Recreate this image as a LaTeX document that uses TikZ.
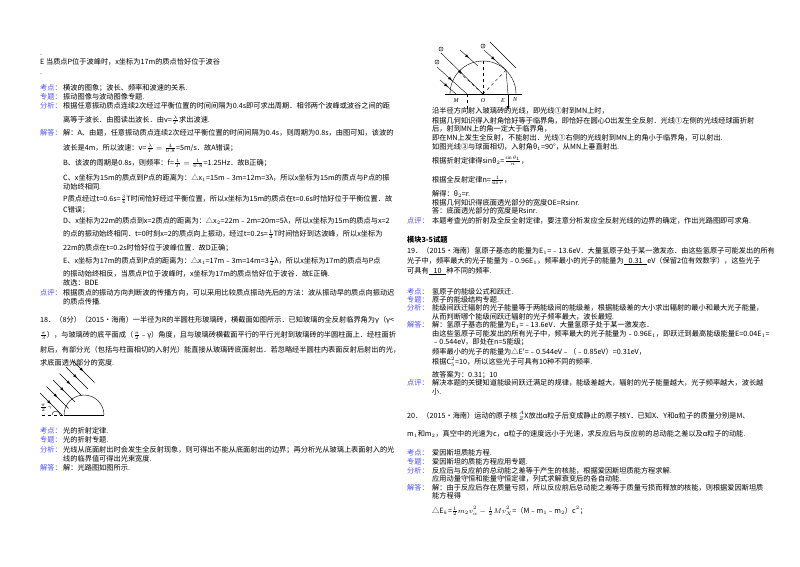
\documentclass[tikz,border=0pt]{standalone}
\usepackage{fontspec}
\setmainfont{Liberation Serif}
\newfontfamily\cjk{Noto Sans CJK SC}
\usetikzlibrary{decorations.markings}
\begin{document}
\begin{tikzpicture}[x=1pt,y=-1pt,
 t/.style={anchor=base west,inner sep=0,font=\cjk\fontsize{7.2}{8}\selectfont},
 lb/.style={t,text=blue!70!white},
 ray/.style={thin,postaction={decorate},decoration={markings,mark=at position 0.5 with {\arrow{latex}}}}]
\useasboundingbox (0,0) rectangle (800,566);
\fill[white] (0,0) rectangle (800,566);
% ---------- left column
\node[t] (l0) at (40,55) {.};
\node[t] (l1) at (40,64) {E 当质点P位于波峰时，x坐标为17m的质点恰好位于波谷};
\node[t] (l2) at (40,74) {.};
\node[lb] (k1) at (40,90) {考点：};
\node[t] (k1t) at (63,90) {横波的图象；波长、频率和波速的关系.};
\node[lb] (z1) at (40,99) {专题：};
\node[t] (z1t) at (63,99) {振动图像与波动图像专题.};
\node[lb] (f1) at (40,108) {分析：};
\node[t] (f1t) at (63,108) {根据任意振动质点连续2次经过平衡位置的时间间隔为0.4s即可求出周期．相邻两个波峰或波谷之间的距};
\node[t] (f1u) at (63,122) {离等于波长．由图读出波长．由v=$\frac{\lambda}{T}$求出波速.};
\node[lb] (j1) at (40,135) {解答：};
\node[t] (j1a) at (63,135) {解：A、由题，任意振动质点连续2次经过平衡位置的时间间隔为0.4s，则周期为0.8s，由图可知，该波的};
\node[t] (j1b) at (63,150) {波长是4m，所以波速：v=$\frac{\lambda}{T}=\frac{4}{0.8}$=5m/s．故A错误；};
\node[t] (j1c) at (63,165) {B、该波的周期是0.8s，则频率：f=$\frac{1}{T}=\frac{1}{0.8}$=1.25Hz．故B正确；};
\node[t] (j1d) at (63,180) {C、x坐标为15m的质点到P点的距离为：△x$_1$=15m﹣3m=12m=3λ，所以x坐标为15m的质点与P点的振};
\node[t] (j1e) at (63,189) {动始终相同.};
\node[t] (j1f) at (63,201) {P质点经过t=0.6s=$\frac{3}{4}$T时间恰好经过平衡位置，所以x坐标为15m的质点在t=0.6s时恰好位于平衡位置．故};
\node[t] (j1g) at (63,212) {C错误；};
\node[t] (j1h) at (63,223) {D、x坐标为22m的质点到x=2质点的距离为：△x$_2$=22m﹣2m=20m=5λ，所以x坐标为15m的质点与x=2};
\node[t] (j1i) at (63,236) {的点的振动始终相同．t=0时刻x=2的质点向上振动，经过t=0.2s=$\frac{1}{4}$T时间恰好到达波峰，所以x坐标为};
\node[t] (j1j) at (63,250) {22m的质点在t=0.2s时恰好位于波峰位置．故D正确；};
\node[t] (j1k) at (63,263) {E、x坐标为17m的质点到P点的距离为：△x$_1$=17m﹣3m=14m=3$\frac{1}{2}$λ，所以x坐标为17m的质点与P点};
\node[t] (j1l) at (63,276) {的振动始终相反，当质点P位于波峰时，x坐标为17m的质点恰好位于波谷．故E正确.};
\node[t] (j1m) at (63,285) {故选：BDE};
\node[lb] (p1) at (40,295) {点评：};
\node[t] (p1t) at (63,295) {根据质点的振动方向判断波的传播方向，可以采用比较质点振动先后的方法：波从振动早的质点向振动迟};
\node[t] (p1u) at (63,304) {的质点传播.};
\node[t] (q18) at (40,322) {18．（8分）（2015•海南）一半径为R的半圆柱形玻璃砖，横截面如图所示．已知玻璃的全反射临界角为γ（γ<};
\node[t] (q18b) at (40,337) {$\frac{\pi}{3}$），与玻璃砖的底平面成（$\frac{\pi}{2}$﹣γ）角度，且与玻璃砖横截面平行的平行光射到玻璃砖的半圆柱面上．经柱面折};
\node[t] (q18c) at (40,352) {射后，有部分光（包括与柱面相切的入射光）能直接从玻璃砖底面射出．若忽略经半圆柱内表面反射后射出的光，};
\node[t] (q18d) at (40,365) {求底面透光部分的宽度.};
% left figure
\draw[thin] (64,415) arc (180:360:20);
\draw[thin] (64,415) -- (104,415);
\draw[thin,dashed] (42,415) -- (64,415);
\draw[thin] (52,415) arc (180:360:4);
\foreach \i in {0,1,2,3,4,5} {\draw[ray] ({40+\i*6.5},{393-\i*6.5}) -- ({62+\i*6.5},{415-\i*6.5});}
\node[font=\fontsize{4.5}{5}\selectfont,inner sep=0] (gm) at (46,408) {$\frac{\pi}{2}$ $\gamma$};
\node[lb] (k2) at (40,433) {考点：};
\node[t] (k2t) at (63,433) {光的折射定律.};
\node[lb] (z2) at (40,442) {专题：};
\node[t] (z2t) at (63,442) {光的折射专题.};
\node[lb] (f2) at (40,452) {分析：};
\node[t] (f2t) at (63,452) {光线从底面射出时会发生全反射现象，则可得出不能从底面射出的边界；再分析光从玻璃上表面射入的光};
\node[t] (f2u) at (63,461) {线的临界值可得出光束宽度.};
\node[lb] (j2) at (40,470) {解答：};
\node[t] (j2t) at (63,470) {解：光路图如图所示.};
% ---------- right figure
\coordinate (O) at (483,94);
\draw[thin] (445,94) -- (522,94);
\draw[thin] (450,94) arc (180:360:33);
\draw[thin,dashed] (483,94) -- (483,61);
\draw[thin,dashed] (483,94) -- (506,70);
\draw[thin,dashed] (483,94) -- (459,72);
\draw[thin,dashed] (467,94) -- (467,112);
\draw[thin] (506,70) -- (508,94);
\draw[-latex,thin] (508,94) -- (508,110);
\draw[ray] (441,53) -- (483,94);
\draw[ray] (437,67) -- (467,94);
\draw[ray] (440,80) -- (456,94);
\draw[ray] (460,50) -- (478,66);
\draw[ray] (484,50) -- (506,70);
\draw[thin] (490,42) -- (516,68);
\node[inner sep=0.3pt,draw,circle,font=\fontsize{4}{4}\selectfont] (c1) at (441,49) {1};
\node[inner sep=0.3pt,draw,circle,font=\fontsize{4}{4}\selectfont] (c2) at (437,62) {2};
\node[inner sep=0.3pt,draw,circle,font=\fontsize{4}{4}\selectfont] (c3) at (483,46) {3};
\node[inner sep=0,font=\itshape\fontsize{6}{6}\selectfont] (M) at (456,101) {M};
\node[inner sep=0,font=\itshape\fontsize{6}{6}\selectfont] (Ol) at (483,101) {O};
\node[inner sep=0,font=\itshape\fontsize{6}{6}\selectfont] (E) at (503,101) {E};
\node[inner sep=0,font=\itshape\fontsize{6}{6}\selectfont] (N) at (515,100) {N};
% right text
\node[t] (r1) at (432,113) {沿半径方向射入玻璃砖的光线，即光线①射到MN上时，};
\node[t] (r2) at (432,123) {根据几何知识得入射角恰好等于临界角，即恰好在圆心O出发生全反射．光线①左侧的光线经球面折射};
\node[t] (r3) at (432,131) {后，射到MN上的角一定大于临界角，};
\node[t] (r4) at (432,140) {即在MN上发生全反射，不能射出．光线①右侧的光线射到MN上的角小于临界角，可以射出.};
\node[t] (r5) at (432,149) {如图光线③与球面相切，入射角θ$_1$=90°，从MN上垂直射出.};
\node[t] (r6) at (432,163) {根据折射定律得sinθ$_2$=$\frac{\sin\theta_1}{n}$，};
\node[t] (r7) at (432,182) {根据全反射定律n=$\frac{1}{\sin r}$，};
\node[t] (r8) at (432,196) {解得：θ$_2$=r.};
\node[t] (r9) at (432,205) {根据几何知识得底面透光部分的宽度OE=Rsinr.};
\node[t] (r10) at (432,213) {答：底面透光部分的宽度是Rsinr.};
\node[lb] (p2) at (407,223) {点评：};
\node[t] (p2t) at (432,223) {本题考查光的折射及全反全射定律，要注意分析发应全反射光线的边界的确定，作出光路图即可求角.};
\node[t,font=\cjk\bfseries\fontsize{7.2}{8}\selectfont] (mk) at (407,242) {模块3-5试题};
\node[t] (q19) at (407,253) {19．（2015•海南）氢原子基态的能量为E$_1$=﹣13.6eV．大量氢原子处于某一激发态．由这些氢原子可能发出的所有};
\node[t] (q19b) at (407,263) {光子中，频率最大的光子能量为﹣0.96E$_1$，频率最小的光子的能量为\underline{\ \ \ 0.31\ \ \ }eV（保留2位有效数字），这些光子};
\node[t] (q19c) at (407,273) {可具有\underline{\ \ \ 10\ \ \ }种不同的频率.};
\node[lb] (k3) at (407,294) {考点：};
\node[t] (k3t) at (432,294) {氢原子的能级公式和跃迁.};
\node[lb] (z3) at (407,302) {专题：};
\node[t] (z3t) at (432,302) {原子的能级结构专题.};
\node[lb] (f3) at (407,310) {分析：};
\node[t] (f3t) at (432,310) {能级间跃迁辐射的光子能量等于两能级间的能级差，根据能级差的大小求出辐射的最小和最大光子能量，};
\node[t] (f3u) at (432,319) {从而判断哪个能级间跃迁辐射的光子频率最大，波长最短.};
\node[lb] (j3) at (407,327) {解答：};
\node[t] (j3a) at (432,327) {解：氢原子基态的能量为E$_1$=﹣13.6eV．大量氢原子处于某一激发态．};
\node[t] (j3b) at (432,336) {由这些氢原子可能发出的所有光子中，频率最大的光子能量为﹣0.96E$_1$，即跃迁到最高能级能量E=0.04E$_1$=};
\node[t] (j3c) at (432,344) {﹣0.544eV，即处在n=5能级；};
\node[t] (j3d) at (432,354) {频率最小的光子的能量为△E'=﹣0.544eV﹣（﹣0.85eV）=0.31eV，};
\node[t] (j3e) at (432,364) {根据C$_5^2$=10，所以这些光子可具有10种不同的频率.};
\node[t] (j3f) at (432,377) {故答案为：0.31；10};
\node[lb] (p3) at (407,385) {点评：};
\node[t] (p3t) at (432,385) {解决本题的关键知道能级间跃迁满足的规律，能级差越大，辐射的光子能量越大，光子频率越大，波长越};
\node[t] (p3u) at (432,394) {小.};
\node[t] (q20) at (407,418) {20．（2015•海南）运动的原子核\,\raisebox{0pt}{$^{A}_{Z}$}X放出α粒子后变成静止的原子核Y．已知X、Y和α粒子的质量分别是M、};
\node[t] (q20b) at (407,436) {m$_1$和m$_2$，真空中的光速为c，α粒子的速度远小于光速，求反应后与反应前的总动能之差以及α粒子的动能.};
\node[lb] (k4) at (407,455) {考点：};
\node[t] (k4t) at (432,455) {爱因斯坦质能方程.};
\node[lb] (z4) at (407,464) {专题：};
\node[t] (z4t) at (432,464) {爱因斯坦的质能方程应用专题.};
\node[lb] (f4) at (407,473) {分析：};
\node[t] (f4t) at (432,473) {反应后与反应前的总动能之差等于产生的核能，根据爱因斯坦质能方程求解.};
\node[t] (f4u) at (432,481) {应用动量守恒和能量守恒定律，列式求解衰变后的各自动能.};
\node[lb] (j4) at (407,490) {解答：};
\node[t] (j4a) at (432,490) {解：由于反应后存在质量亏损，所以反应前后总动能之差等于质量亏损而释放的核能，则根据爱因斯坦质};
\node[t] (j4b) at (432,498) {能方程得};
\node[t] (j4c) at (432,513) {△E$_k$=$\frac{1}{2}m_2v_\alpha^2-\frac{1}{2}Mv_X^2$=（M﹣m$_1$﹣m$_2$）c$^2$；};
\end{tikzpicture}
\end{document}
